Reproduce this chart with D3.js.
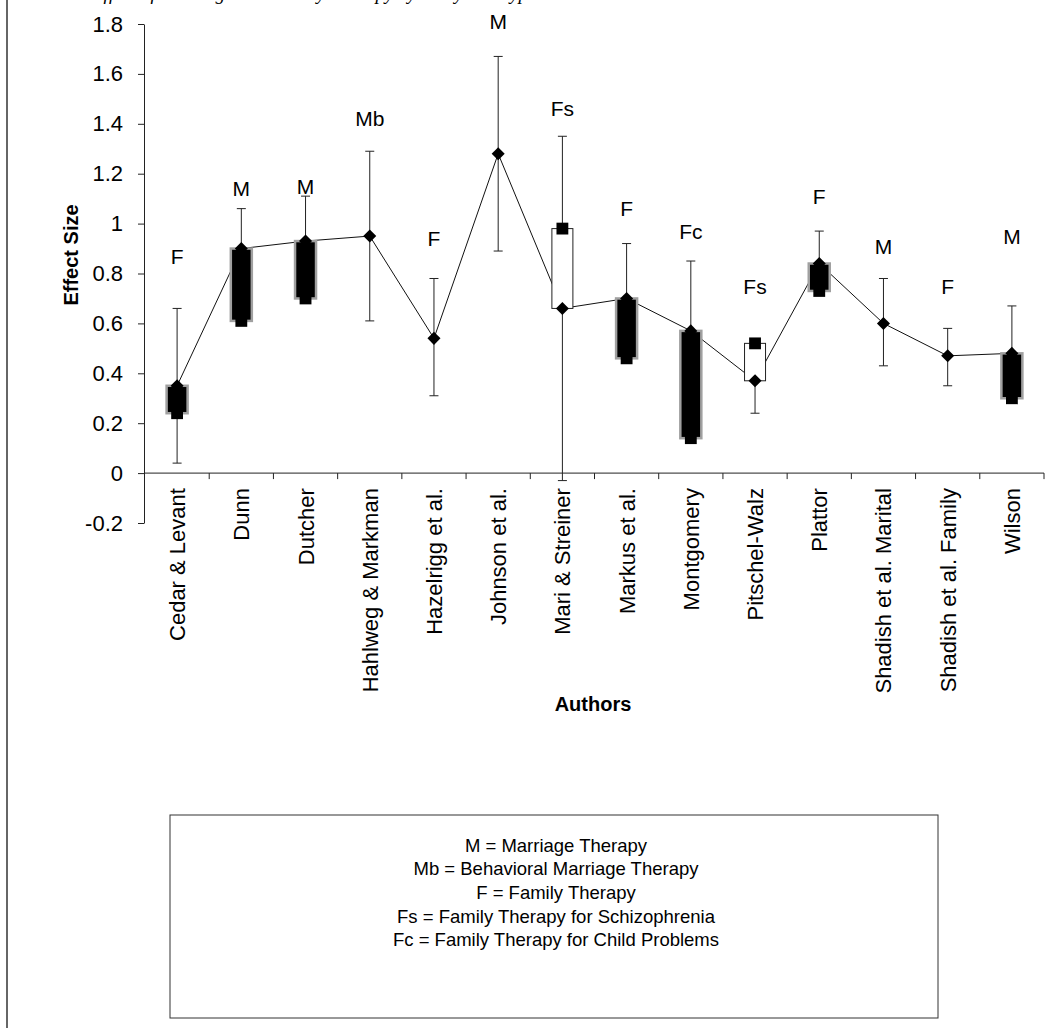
<!DOCTYPE html>
<html><head><meta charset="utf-8">
<script src="https://cdn.jsdelivr.net/npm/d3@7"></script>
<style>
body{margin:0;background:#fff}
svg{display:block}
text{font-family:Arial,"Liberation Sans",sans-serif;fill:#000}
</style>
</head><body>
<svg id="chart" width="1048" height="1028"></svg>
<script>
// ---- data ----
const authors = ["Cedar & Levant","Dunn","Dutcher","Hahlweg & Markman","Hazelrigg et al.","Johnson et al.","Mari & Streiner","Markus et al.","Montgomery","Pitschel-Walz","Plattor","Shadish et al. Marital","Shadish et al. Family","Wilson"];
const effectSize = [0.35,0.90,0.93,0.95,0.54,1.28,0.66,0.70,0.57,0.37,0.84,0.60,0.47,0.48];
const otherEstimate = [0.24,0.61,0.70,null,null,null,0.98,0.46,0.14,0.52,0.73,null,null,0.30];
const ciHigh = [0.66,1.06,1.11,1.29,0.78,1.67,1.35,0.92,0.85,null,0.97,0.78,0.58,0.67];
const ciLow  = [0.04,null,null,0.61,0.31,0.89,-0.03,null,null,0.24,null,0.43,0.35,null];
const therapyType = ["F","M","M","Mb","F","M","Fs","F","Fc","Fs","F","M","F","M"];
const typeLabelAt = [0.87,1.14,1.15,1.42,0.94,1.81,1.46,1.06,0.97,0.75,1.11,0.91,0.75,0.95];
const yTicks = [1.8,1.6,1.4,1.2,1,0.8,0.6,0.4,0.2,0,-0.2];
const legendLines = ["M = Marriage Therapy","Mb = Behavioral Marriage Therapy","F = Family Therapy","Fs = Family Therapy for Schizophrenia","Fc = Family Therapy for Child Problems"];
const pageTitle = "Effect of Marriage and Family Therapy by Study and Type";

// ---- chart ----
const svg = d3.select("#chart");
const x = d3.scaleBand().domain(authors).range([145,1044]).padding(0);
const y = d3.scaleLinear().domain([-0.2,1.8]).range([523,24]);
const cx = a => x(a) + x.bandwidth()/2;

// page frame + cut-off running title
svg.append("line").attr("x1",7).attr("x2",7).attr("y1",0).attr("y2",1028)
  .attr("stroke","#333").attr("stroke-width",1.5);
svg.append("text").attr("x",92).attr("y",0)
  .style("font-family","'Liberation Serif',serif").style("font-style","italic")
  .style("font-size","19px").text(pageTitle);

// y axis
const fmt = d => d===0 ? "0" : d===1 ? "1" : d3.format(".1f")(d).replace("\u2212","-");
const yAxis = d3.axisLeft(y).tickValues(yTicks).tickSize(6).tickSizeOuter(0).tickFormat(fmt);
const gy = svg.append("g").attr("transform","translate(144,0)").call(yAxis);
gy.selectAll("text").style("font-size","22px").attr("x",-21);
gy.selectAll("path,line").attr("stroke","#222");

// x axis
const y0 = y(0);
const gx = svg.append("g");
gx.append("line").attr("x1",x.range()[0]).attr("x2",x.range()[1]).attr("y1",y0).attr("y2",y0).attr("stroke","#222");
gx.selectAll("line.tk").data(authors.slice(1).concat([null])).join("line").attr("class","tk")
  .attr("x1",d => d===null ? x.range()[1] : x(d)).attr("x2",d => d===null ? x.range()[1] : x(d))
  .attr("y1",y0).attr("y2",y0+6).attr("stroke","#222");
gx.selectAll("text").data(authors).join("text")
  .attr("transform",d => `translate(${cx(d)+8},${y0+15}) rotate(-90)`)
  .attr("text-anchor","end").style("font-size","22px").text(d => d);

// axis titles
svg.append("text").attr("transform","translate(78,255) rotate(-90)")
  .attr("text-anchor","middle").style("font-size","20px").style("font-weight","bold").text("Effect Size");
svg.append("text").attr("x",593).attr("y",711).attr("text-anchor","middle")
  .style("font-size","20px").style("font-weight","bold").text("Authors");

const rows = authors.map((a,i) => ({a, e:effectSize[i], o:otherEstimate[i], hi:ciHigh[i], lo:ciLow[i], t:therapyType[i], ly:typeLabelAt[i]}));

// error bars
const eb = svg.append("g").attr("stroke","#222").attr("stroke-width",1);
rows.forEach(r => {
  const ends = [r.e, r.o].filter(v => v !== null);
  const hi = r.hi !== null ? r.hi : d3.max(ends);
  const lo = r.lo !== null ? r.lo : d3.min(ends);
  const xc = cx(r.a);
  eb.append("line").attr("x1",xc).attr("x2",xc).attr("y1",y(hi)).attr("y2",y(lo));
  if (r.hi !== null) eb.append("line").attr("x1",xc-4.5).attr("x2",xc+4.5).attr("y1",y(r.hi)).attr("y2",y(r.hi));
  if (r.lo !== null) eb.append("line").attr("x1",xc-4.5).attr("x2",xc+4.5).attr("y1",y(r.lo)).attr("y2",y(r.lo));
});

// connecting line
svg.append("path").datum(rows)
  .attr("d", d3.line().x(r => cx(r.a)).y(r => y(r.e)))
  .attr("fill","none").attr("stroke","#111").attr("stroke-width",1);

// up/down bars
const bw = 21;
svg.append("g").selectAll("rect").data(rows.filter(r => r.o !== null)).join("rect")
  .attr("x", r => cx(r.a) - bw/2)
  .attr("y", r => y(Math.max(r.e, r.o)))
  .attr("width", bw)
  .attr("height", r => Math.abs(y(r.e) - y(r.o)))
  .attr("fill", r => r.o > r.e ? "#fff" : "#000")
  .attr("stroke", r => r.o > r.e ? "#222" : "#a0a0a0")
  .attr("stroke-width", r => r.o > r.e ? 1 : 2.5);

// square markers (second estimate)
svg.append("g").selectAll("path").data(rows.filter(r => r.o !== null)).join("path")
  .attr("transform", r => `translate(${cx(r.a)},${y(r.o)})`)
  .attr("d", d3.symbol(d3.symbolSquare, 140)).attr("fill","#000");

// diamond markers (effect size)
svg.append("g").selectAll("path").data(rows).join("path")
  .attr("transform", r => `translate(${cx(r.a)},${y(r.e)}) rotate(45)`)
  .attr("d", d3.symbol(d3.symbolSquare, 85)).attr("fill","#000");

// therapy type labels
svg.append("g").selectAll("text").data(rows).join("text")
  .attr("x", r => cx(r.a)).attr("y", r => y(r.ly)).attr("dy","0.36em")
  .attr("text-anchor","middle").style("font-size","21px").text(r => r.t);

// legend box
svg.append("rect").attr("x",170).attr("y",815).attr("width",768).attr("height",203)
  .attr("fill","none").attr("stroke","#333").attr("stroke-width",1);
svg.append("g").selectAll("text").data(legendLines).join("text")
  .attr("x",556).attr("y",(d,i) => 845 + i*23.7).attr("dy","0.36em")
  .attr("text-anchor","middle").style("font-size","18.5px").text(d => d);
</script>
</body></html>
